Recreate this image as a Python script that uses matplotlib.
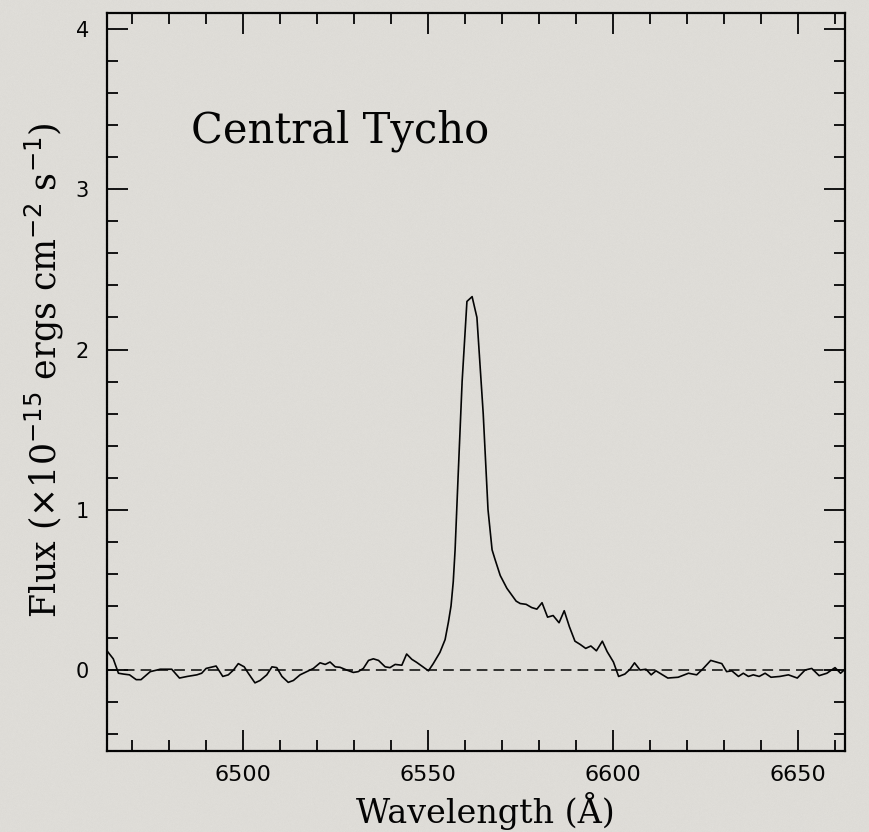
import numpy as np
import matplotlib.pyplot as plt
from matplotlib.ticker import MultipleLocator

# Espectro central de Tycho (longitud de onda en Angstrom, flujo en 1e-15 erg/cm2/s)
wave = [6463.2, 6464.9, 6466.3, 6467.6, 6469.3, 6471.1, 6472.4, 6474.9, 6477.6, 6480.7,
        6482.8, 6484.9, 6487.5, 6488.8, 6490.0, 6492.7, 6494.5, 6496.0, 6497.4, 6498.7,
        6500.3, 6501.4, 6503.2, 6504.6, 6506.4, 6507.8, 6509.1, 6510.5, 6512.2, 6513.6,
        6515.4, 6517.2, 6519.0, 6520.8, 6522.2, 6523.5, 6524.9, 6526.2, 6528.0, 6529.8,
        6531.1, 6532.5, 6533.9, 6535.2, 6536.6, 6538.4, 6539.7, 6541.1, 6542.9, 6544.2,
        6545.6, 6546.9, 6548.3, 6550.1, 6551.4, 6553.2, 6554.6, 6555.5, 6556.2, 6556.8,
        6557.3, 6558.1, 6559.2, 6560.5, 6561.9, 6563.2, 6564.9, 6566.2, 6567.3, 6568.1,
        6569.5, 6571.3, 6573.8, 6574.9, 6576.5, 6578.0, 6579.4, 6580.8, 6582.3, 6583.8,
        6585.4, 6586.8, 6588.2, 6589.7, 6591.1, 6592.6, 6594.0, 6595.5, 6597.1, 6598.4,
        6600.1, 6601.5, 6603.2, 6604.6, 6605.8, 6607.3, 6608.9, 6610.3, 6611.6, 6614.8,
        6617.6, 6620.4, 6622.6, 6624.4, 6626.4, 6629.4, 6630.7, 6632.1, 6633.9, 6635.2,
        6636.6, 6637.9, 6639.5, 6641.1, 6642.7, 6645.1, 6647.4, 6649.8, 6651.9, 6653.7,
        6655.7, 6657.8, 6660.0, 6661.5, 6662.7]
flux = [0.12, 0.07, -0.02, -0.025, -0.03, -0.06, -0.06, -0.01, 0.005, 0.005,
        -0.05, -0.04, -0.03, -0.02, 0.01, 0.025, -0.04, -0.03, 0.0, 0.04,
        0.02, -0.02, -0.08, -0.065, -0.03, 0.02, 0.015, -0.04, -0.077, -0.065,
        -0.03, -0.01, 0.01, 0.045, 0.035, 0.05, 0.02, 0.017, 0.0, -0.015,
        -0.01, 0.01, 0.06, 0.07, 0.06, 0.02, 0.015, 0.035, 0.03, 0.1,
        0.067, 0.048, 0.025, -0.005, 0.04, 0.11, 0.19, 0.30, 0.40, 0.55,
        0.75, 1.2, 1.8, 2.3, 2.33, 2.2, 1.6, 1.0, 0.75, 0.69,
        0.59, 0.51, 0.43, 0.415, 0.41, 0.39, 0.38, 0.42, 0.33, 0.34,
        0.295, 0.37, 0.27, 0.18, 0.16, 0.135, 0.15, 0.12, 0.18, 0.115,
        0.05, -0.04, -0.025, 0.005, 0.045, 0.0, 0.005, -0.03, -0.005, -0.05,
        -0.045, -0.02, -0.03, 0.01, 0.06, 0.04, -0.01, -0.005, -0.04, -0.02,
        -0.04, -0.03, -0.04, -0.02, -0.045, -0.04, -0.03, -0.05, 0.0, 0.01,
        -0.035, -0.02, 0.015, -0.02, 0.005]

bg = '#e1dfda'
serif = 'DejaVu Serif'
sans = 'DejaVu Sans'

fig = plt.figure(figsize=(8.69, 8.32), dpi=100, facecolor=bg)

# fondo con textura tenue de papel
rng = np.random.default_rng(3)
grain = rng.normal(0, 1, (832, 869))
fig.figimage(grain, cmap='gray', alpha=0.035, zorder=0)

ax = fig.add_axes([0.1231, 0.0974, 0.8493, 0.887])
ax.patch.set_alpha(0)

ax.plot(wave, flux, color='black', lw=1.2)
ax.axhline(0, color='black', lw=1.1, linestyle=(0, (7, 4)))

ax.set_xlim(6463.2, 6662.7)
ax.set_ylim(-0.505, 4.1)

ax.xaxis.set_major_locator(MultipleLocator(50))
ax.xaxis.set_minor_locator(MultipleLocator(10))
ax.yaxis.set_major_locator(MultipleLocator(1))
ax.yaxis.set_minor_locator(MultipleLocator(0.2))
ax.tick_params(which='both', direction='in', top=True, right=True, width=1.3)
ax.tick_params(axis='x', labelsize=16, pad=10)
ax.tick_params(axis='y', labelsize=15, pad=13)
ax.tick_params(which='major', length=15)
ax.tick_params(which='minor', length=8)
for lab in ax.get_xticklabels() + ax.get_yticklabels():
    lab.set_fontfamily(sans)
for s in ax.spines.values():
    s.set_linewidth(1.6)

ax.set_xlabel('Wavelength (Å)', fontfamily=serif, fontsize=24)
ax.xaxis.set_label_coords(0.513, -0.0976, transform=ax.transAxes)
ax.xaxis.label.set_va('baseline')
ax.set_ylabel(r'Flux ($\times$10$^{-15}$ ergs cm$^{-2}$ s$^{-1}$)',
              fontfamily=serif, fontsize=25)
ax.yaxis.set_label_coords(-0.055, 0.516, transform=ax.transAxes)
ax.text(6486, 3.29, 'Central Tycho', fontfamily=serif, fontsize=30, va='baseline')

fig.savefig('out.png', dpi=100, facecolor=bg)
